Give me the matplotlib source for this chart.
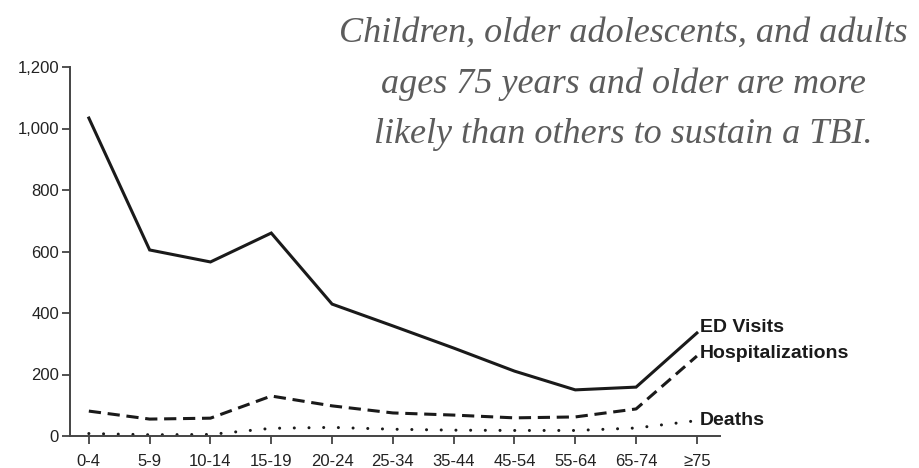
import matplotlib.pyplot as plt

age_groups = ['0-4', '5-9', '10-14', '15-19', '20-24', '25-34', '35-44',
              '45-54', '55-64', '65-74', '\u226575']
ed_visits = [1034, 605, 566, 660, 429, 358, 286, 211, 150, 159, 335]
hospitalizations = [81, 55, 58, 130, 98, 75, 68, 59, 62, 88, 260]
deaths = [8, 4, 5, 25, 28, 22, 19, 18, 18, 26, 50]
yticks = [0, 200, 400, 600, 800, 1000, 1200]

title = ("Children, older adolescents, and adults\n"
         "ages 75 years and older are more\n"
         "likely than others to sustain a TBI.")

plt.rcParams['font.family'] = ['Liberation Sans', 'DejaVu Sans']

fig = plt.figure(figsize=(9.19, 4.68), dpi=100)
ax = fig.add_axes([70 / 919, 1 - 436 / 468, 650 / 919, 369 / 468])

x = range(len(age_groups))
ax.plot(x, ed_visits, color='#1a1a1a', lw=2.2, solid_joinstyle='miter')
ax.plot(x, hospitalizations, color='#1a1a1a', lw=2.2, linestyle=(0, (4.0, 2.2)))
ax.plot(x, deaths, color='#1a1a1a', lw=2.2, linestyle=(0, (0.01, 4.8)),
        dash_capstyle='round')

ax.set_xlim(-0.31, 10.38)
ax.set_ylim(0, 1200)
ax.set_xticks(list(x))
ax.set_xticklabels(age_groups)
ax.set_yticks(yticks)
ax.set_yticklabels([f'{v:,}' for v in yticks])
ax.tick_params(axis='both', colors='#333333', labelcolor='#222222',
               labelsize=12, width=1.2, length=6, direction='out')
ax.tick_params(axis='x', pad=7)
ax.tick_params(axis='y', pad=2)
for side in ['top', 'right']:
    ax.spines[side].set_visible(False)
for side in ['left', 'bottom']:
    ax.spines[side].set_color('#444444')
    ax.spines[side].set_linewidth(1.4)

# labels at the end of each line
lbl = dict(fontsize=14, fontweight='bold', color='#1a1a1a',
           va='center', ha='left')
ax.text(10.05, 352, 'ED Visits', **lbl)
ax.text(10.05, 268, 'Hospitalizations', **lbl)
ax.text(10.05, 50, 'Deaths', **lbl)

fig.text(623 / 919, 1 - 17 / 468, title, ha='center', va='top',
         fontsize=26, style='italic', family='Liberation Serif',
         color='#5c5c5c', linespacing=1.68)

fig.savefig('out.png', dpi=100)
